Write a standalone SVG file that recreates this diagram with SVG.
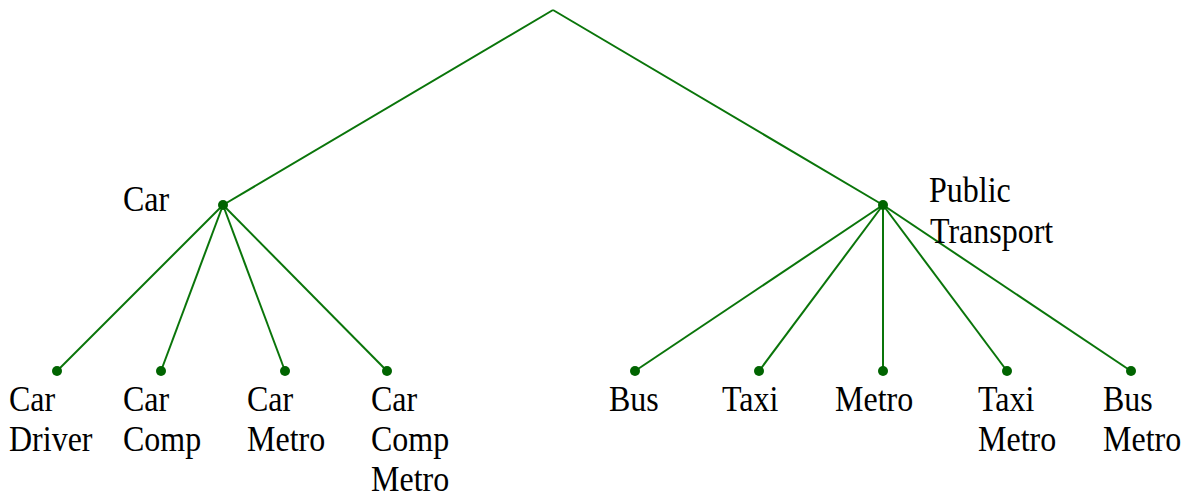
<svg xmlns="http://www.w3.org/2000/svg" width="1196" height="499" viewBox="0 0 1196 499">
<style>
.e{stroke:#0a750a;stroke-width:2;fill:none}
.d{fill:#006400}
text{font-family:"Liberation Serif","Times New Roman",serif;font-size:32px;fill:#000}
</style>
<rect width="1196" height="499" fill="#fff"/>
<g id="connectors">
<line class="e" x1="553" y1="10" x2="223" y2="205"/>
<line class="e" x1="553" y1="10" x2="883" y2="205"/>
<line class="e" x1="223" y1="205" x2="57" y2="371"/>
<line class="e" x1="223" y1="205" x2="161" y2="371"/>
<line class="e" x1="223" y1="205" x2="285" y2="371"/>
<line class="e" x1="223" y1="205" x2="387" y2="371"/>
<line class="e" x1="883" y1="205" x2="635" y2="371"/>
<line class="e" x1="883" y1="205" x2="759" y2="371"/>
<line class="e" x1="883" y1="205" x2="883" y2="371"/>
<line class="e" x1="883" y1="205" x2="1007" y2="371"/>
<line class="e" x1="883" y1="205" x2="1131" y2="371"/>
</g>
<g id="root"></g>
<g id="car"><circle class="d" cx="223" cy="205" r="5"/><text transform="matrix(1 0 0 1.1 123 211)">Car</text></g>
<g id="public-transport"><circle class="d" cx="883" cy="205" r="5"/><text transform="matrix(1 0 0 1.1 929 202)">Public</text><text transform="matrix(1 0 0 1.1 930 243)">Transport</text></g>
<g id="car-driver"><circle class="d" cx="57" cy="371" r="5"/><text transform="matrix(1 0 0 1.1 9 411)">Car</text><text transform="matrix(1 0 0 1.1 9 451)">Driver</text></g>
<g id="car-comp"><circle class="d" cx="161" cy="371" r="5"/><text transform="matrix(1 0 0 1.1 123 411)">Car</text><text transform="matrix(1 0 0 1.1 123 451)">Comp</text></g>
<g id="car-metro"><circle class="d" cx="285" cy="371" r="5"/><text transform="matrix(1 0 0 1.1 247 411)">Car</text><text transform="matrix(1 0 0 1.1 247 451)">Metro</text></g>
<g id="car-comp-metro"><circle class="d" cx="387" cy="371" r="5"/><text transform="matrix(1 0 0 1.1 371 411)">Car</text><text transform="matrix(1 0 0 1.1 371 451)">Comp</text><text transform="matrix(1 0 0 1.1 371 491)">Metro</text></g>
<g id="bus"><circle class="d" cx="635" cy="371" r="5"/><text transform="matrix(1 0 0 1.1 609 411)">Bus</text></g>
<g id="taxi"><circle class="d" cx="759" cy="371" r="5"/><text transform="matrix(1 0 0 1.1 722 411)">Taxi</text></g>
<g id="metro"><circle class="d" cx="883" cy="371" r="5"/><text transform="matrix(1 0 0 1.1 835 411)">Metro</text></g>
<g id="taxi-metro"><circle class="d" cx="1007" cy="371" r="5"/><text transform="matrix(1 0 0 1.1 978 411)">Taxi</text><text transform="matrix(1 0 0 1.1 978 451)">Metro</text></g>
<g id="bus-metro"><circle class="d" cx="1131" cy="371" r="5"/><text transform="matrix(1 0 0 1.1 1103 411)">Bus</text><text transform="matrix(1 0 0 1.1 1103 451)">Metro</text></g>
</svg>
